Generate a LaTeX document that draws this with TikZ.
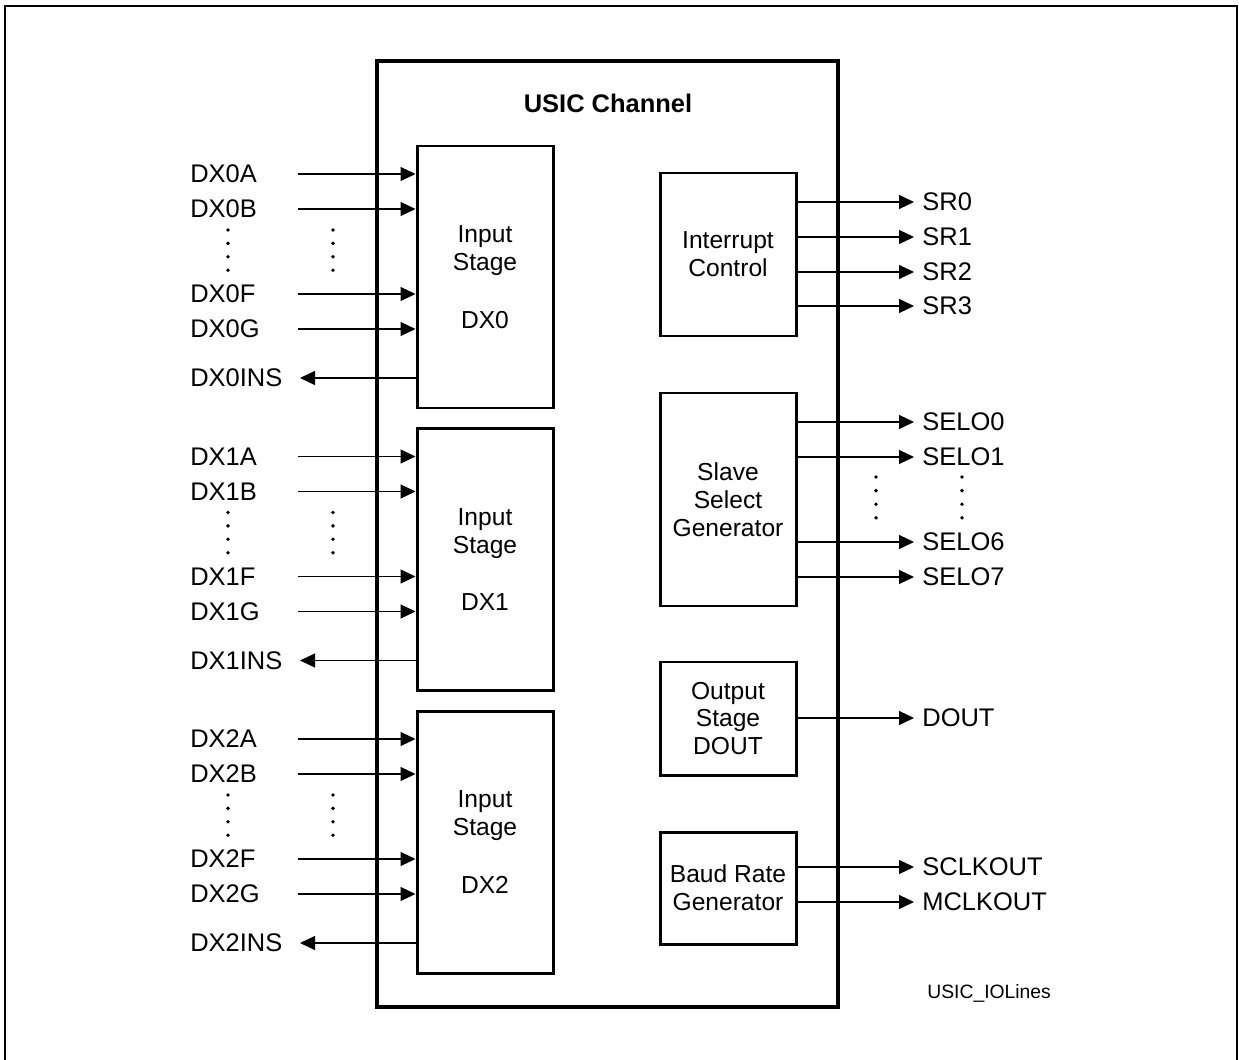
\documentclass[tikz,border=0pt]{standalone}
\usepackage{fontspec}
\setmainfont{Liberation Sans}
\usetikzlibrary{arrows.meta}
\newcommand{\sigfont}{\fontsize{14.5}{16}\selectfont}
\newcommand{\blkfont}{\fontsize{14}{15.9}\selectfont}
\tikzset{
  blk/.style={draw,line width=1.7pt,align=center,inner sep=0pt,font=\blkfont,
    minimum width=136*0.02cm},
  sig/.style={line width=0.6pt,-{Triangle[length=0.3cm,width=0.28cm]}},
  lbl/.style={anchor=west,inner sep=0pt,font=\sigfont},
}
\begin{document}
\begin{tikzpicture}[x=0.02cm,y=-0.02cm]
  \useasboundingbox (0,0) rectangle (1239,1060);
  % outer frame (bottom edge cut off)
  \draw[line width=1.1pt] (5,1065) -- (5,6) -- (1237,6) -- (1237,1065);
  % channel
  \node[draw,line width=2.2pt,minimum width=461*0.02cm,minimum height=946*0.02cm,
    inner sep=0pt] (usic) at (607.5,534) {};
  \node[font=\sigfont\bfseries,inner sep=0pt] (title) at (608,103) {USIC Channel};
  % input stages
  \foreach \i/\yo in {0/0,1/282.5,2/565}{
    \node[blk,minimum height=262*0.02cm] (in\i) at (485,277+\yo)
      {Input\\Stage\\[17pt]DX\i};
    \foreach \s/\yy in {A/174,B/209,F/294,G/329}{
      \node[lbl] (lbl\i\s) at (190,\yy+\yo) {DX\i\s};
      \coordinate (c\i\s) at (298,\yy+\yo);
      \draw[sig] (c\i\s) -- (c\i\s -| in\i.west);
    }
    \node[lbl] (ins\i) at (190,378+\yo) {DX\i INS};
    \coordinate (insend\i) at (300,378+\yo);
    \draw[sig] (insend\i -| in\i.west) -- (insend\i);
    \foreach \d in {0,...,3}{
      \fill (228,230+\yo+\d*13.4) circle (1.1pt);
      \fill (333,230+\yo+\d*13.4) circle (1.1pt);
    }
  }
  % interrupt control
  \node[blk,minimum height=163*0.02cm] (intc) at (728,254.5) {Interrupt\\Control};
  \foreach \n/\yy in {0/202,1/237,2/272,3/306}{
    \coordinate (sr\n) at (914,\yy);
    \draw[sig] (sr\n -| intc.east) -- (sr\n);
    \node[lbl] (srl\n) at (922,\yy) {SR\n};
  }
  % slave select
  \node[blk,minimum height=213*0.02cm] (ssg) at (728,499.5) {Slave\\Select\\Generator};
  \foreach \n/\yy in {0/422,1/457,6/542,7/577}{
    \coordinate (sel\n) at (914,\yy);
    \draw[sig] (sel\n -| ssg.east) -- (sel\n);
    \node[lbl] (sell\n) at (922,\yy) {SELO\n};
  }
  \foreach \d in {0,...,3}{
    \fill (876,477+\d*13.6) circle (1.1pt);
    \fill (962,477+\d*13.6) circle (1.1pt);
  }
  % output stage
  \node[blk,minimum height=113*0.02cm] (dout) at (728,718.5) {Output\\Stage\\DOUT};
  \coordinate (doutend) at (914,718);
  \draw[sig] (doutend -| dout.east) -- (doutend);
  \node[lbl] (doutl) at (922,718) {DOUT};
  % baud rate
  \node[blk,minimum height=112*0.02cm] (brg) at (728,888) {Baud Rate\\Generator};
  \foreach \n/\yy in {SCLKOUT/867,MCLKOUT/902}{
    \coordinate (\n) at (914,\yy);
    \draw[sig] (\n -| brg.east) -- (\n);
    \node[lbl] (l\n) at (922,\yy) {\n};
  }
  \node[anchor=west,inner sep=0pt,font=\fontsize{11}{13}\selectfont] (fig) at (927,993)
    {USIC\_IOLines};
\end{tikzpicture}
\end{document}
